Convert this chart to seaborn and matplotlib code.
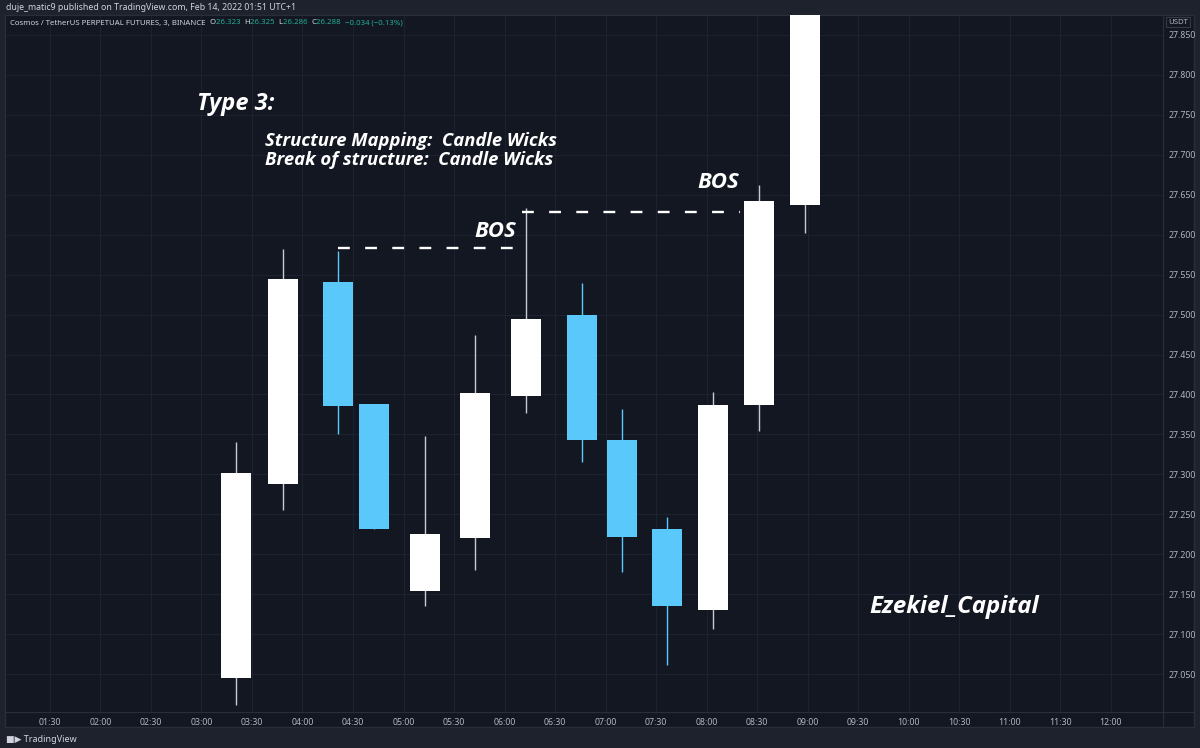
import matplotlib
matplotlib.use("Agg")
import matplotlib.pyplot as plt
from matplotlib.patches import Rectangle
import seaborn as sns
import pandas as pd

# candle times in minutes after 00:00
times = [200.5, 228.4, 261.1, 282.5, 312.8, 342.5, 372.8, 406.0, 429.8, 456.5, 483.8, 511.2, 538.5]
opens = [27.045, 27.288, 27.541, 27.388, 27.154, 27.220, 27.398, 27.499, 27.343, 27.232, 27.130, 27.387, 27.637]
highs = [27.341, 27.582, 27.579, 27.388, 27.348, 27.474, 27.633, 27.539, 27.382, 27.247, 27.403, 27.662, 27.980]
lows = [27.011, 27.255, 27.350, 27.232, 27.135, 27.180, 27.377, 27.315, 27.178, 27.061, 27.106, 27.354, 27.602]
closes = [27.302, 27.545, 27.385, 27.232, 27.225, 27.402, 27.494, 27.343, 27.222, 27.135, 27.387, 27.642, 27.950]

# break-of-structure levels: (start time, end time, price)
bos_levels = [(261.1, 372.8, 27.583), (370.4, 499.9, 27.628)]

time_ticks = list(range(90, 721, 30))
time_labels = ["01:30", "02:00", "02:30", "03:00", "03:30", "04:00", "04:30", "05:00",
               "05:30", "06:00", "06:30", "07:00", "07:30", "08:00", "08:30", "09:00",
               "09:30", "10:00", "10:30", "11:00", "11:30", "12:00"]
price_ticks = [27.05, 27.10, 27.15, 27.20, 27.25, 27.30, 27.35, 27.40, 27.45,
               27.50, 27.55, 27.60, 27.65, 27.70, 27.75, 27.80, 27.85]

df = pd.DataFrame({"t": times, "open": opens, "high": highs, "low": lows, "close": closes})
df["up"] = df["close"] >= df["open"]

BG = "#131722"
OUTER = "#1e222d"
GRID = "#1d2130"
TXT = "#b2b5be"
UP = "#ffffff"
DOWN = "#5ac8fa"

sns.set_theme(style="dark", rc={"axes.facecolor": BG, "figure.facecolor": OUTER,
                                "grid.color": GRID, "axes.edgecolor": BG})
plt.rcParams["font.family"] = ["Noto Sans", "DejaVu Sans"]

W, H = 1200, 748
fig = plt.figure(figsize=(W / 100, H / 100), dpi=100)

# panel behind chart + price/time scales
fig.patches.append(Rectangle((5 / W, (H - 727) / H), 1189 / W, 712 / H, transform=fig.transFigure,
                             facecolor=BG, edgecolor="#2a2e39", lw=1, zorder=-5))

ax = fig.add_axes([5 / W, (H - 712) / H, 1158 / W, 697 / H])
ax.set_zorder(2)
ax.set_xlim(63.3, 751.1)
ax.set_ylim(27.0025, 27.875)

ax.set_xticks(time_ticks)
ax.set_xticklabels(time_labels)
ax.set_yticks(price_ticks)
ax.set_yticklabels([f"{p:.3f}" for p in price_ticks])
ax.yaxis.tick_right()
ax.tick_params(axis="both", length=0, colors=TXT, labelsize=6.3)
ax.tick_params(axis="x", pad=4)
ax.tick_params(axis="y", pad=4)
ax.grid(True, color=GRID, lw=0.8)
for s in ax.spines.values():
    s.set_visible(True)
    s.set_color("#2a2e39")
    s.set_linewidth(0.8)

up = df[df["up"]]
dn = df[~df["up"]]
ax.vlines(up["t"], up["low"], up["high"], color="#c8cad0", lw=1, zorder=2)
ax.vlines(dn["t"], dn["low"], dn["high"], color=DOWN, lw=1, zorder=2)
ax.bar(df["t"], (df["close"] - df["open"]).abs(), bottom=df[["open", "close"]].min(axis=1),
       width=17.8, color=[UP if u else DOWN for u in df["up"]], lw=0, zorder=3)

for x0, x1, y in bos_levels:
    ax.hlines(y, x0, x1, color="white", lw=1.7, linestyles=(0, (5, 6.5)), zorder=4)

ann = dict(color="white", fontweight="bold", fontstyle="italic", zorder=5,
           family=["Open Sans", "Lato", "DejaVu Sans"])
ax.text(354.3, 27.6034, "BOS", ha="center", va="center", fontsize=16, **ann)
ax.text(486.8, 27.6647, "BOS", ha="center", va="center", fontsize=16, **ann)

fig.text(197 / W, 1 - 104 / H, "Type 3:", ha="left", va="center", fontsize=17, **ann)
fig.text(265 / W, 1 - 141 / H, "Structure Mapping:  Candle Wicks", ha="left", va="center",
         fontsize=13.3, **ann)
fig.text(265 / W, 1 - 160 / H, "Break of structure:  Candle Wicks", ha="left", va="center",
         fontsize=13.3, **ann)
fig.text(869 / W, 1 - 607 / H, "Ezekiel_Capital", ha="left", va="center", fontsize=17.3, **ann)

# header lines
fig.text(6 / W, 1 - 8 / H, "duje_matic9 published on TradingView.com, Feb 14, 2022 01:51 UTC+1",
         ha="left", va="center", fontsize=6.3, color="#d1d4dc")
hx = 10 / W
hy = 1 - 23 / H
t1 = fig.text(hx, hy, "Cosmos / TetherUS PERPETUAL FUTURES, 3, BINANCE  ", ha="left", va="center",
              fontsize=5.6, color="#d1d4dc")
fig.canvas.draw()
rend = fig.canvas.get_renderer()
parts = [("O", "#d1d4dc"), ("26.323  ", "#22ab94"), ("H", "#d1d4dc"), ("26.325  ", "#22ab94"),
         ("L", "#d1d4dc"), ("26.286  ", "#22ab94"), ("C", "#d1d4dc"), ("26.288  ", "#22ab94"),
         ("\u22120.034 (\u22120.13%)", "#22ab94")]
prev = t1
for s, c in parts:
    bb = prev.get_window_extent(rend)
    prev = fig.text(bb.x1 / W, hy, s, ha="left", va="center", fontsize=5.6, color=c)

# USDT box on the price scale
fig.text(1178 / W, 1 - 22 / H, "USDT", ha="center", va="center", fontsize=5.6, color=TXT,
         bbox=dict(boxstyle="square,pad=0.25", fc=BG, ec="#363a45", lw=0.8), zorder=6)

# separator lines of price and time scales
fig.add_artist(plt.Line2D([1163 / W, 1163 / W], [(H - 727) / H, (H - 15) / H], color="#2a2e39", lw=0.8))
fig.add_artist(plt.Line2D([5 / W, 1194 / W], [(H - 712) / H, (H - 712) / H], color="#2a2e39", lw=0.8))

# footer logo
fig.text(6 / W, 1 - 739 / H, "\u25a0\u25b6 TradingView", ha="left", va="center", fontsize=6.5,
         color="#d1d4dc", fontweight="bold")

fig.savefig("out.png", dpi=100, facecolor=OUTER)
